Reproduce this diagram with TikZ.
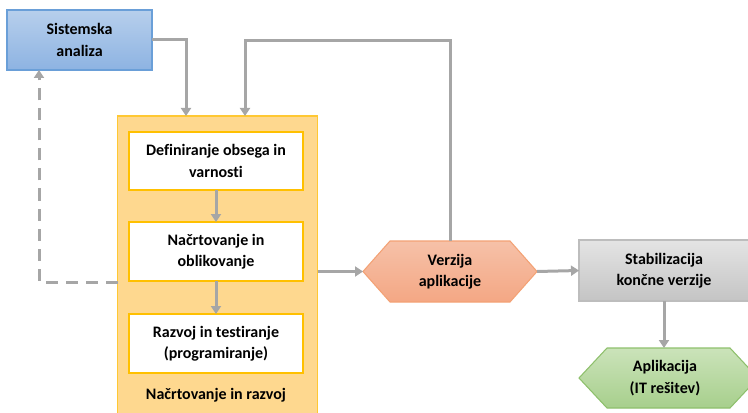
\documentclass[tikz,border=0pt]{standalone}
\usepackage{fontspec}
\setmainfont[Ligatures=NoCommon]{Carlito}
\usetikzlibrary{arrows.meta,calc}
\definecolor{linegray}{HTML}{A6A6A6}
\definecolor{blueTop}{HTML}{B7CFEC}
\definecolor{blueBot}{HTML}{8DB3E2}
\definecolor{blueLine}{HTML}{6A9FD8}
\definecolor{yellowFill}{HTML}{FED88F}
\definecolor{yellowLine}{HTML}{FFC833}
\definecolor{goldLine}{HTML}{FFC000}
\definecolor{orangeTop}{HTML}{F6C1A8}
\definecolor{orangeBot}{HTML}{F4A784}
\definecolor{orangeLine}{HTML}{F3A275}
\definecolor{grayTop}{HTML}{E4E4E4}
\definecolor{grayBot}{HTML}{C4C4C4}
\definecolor{grayLine}{HTML}{BDBDBD}
\definecolor{greenTop}{HTML}{CBE3BA}
\definecolor{greenBot}{HTML}{A7CF8C}
\definecolor{greenLine}{HTML}{8EC06C}
\tikzset{
  px/.style={x=0.75pt,y=-0.75pt},
  lbl/.style={font=\fontsize{12}{16}\selectfont\bfseries, align=center, text=black},
  box/.style={lbl, rectangle, inner sep=0pt, outer sep=0pt},
  conn/.style={draw=linegray, line width=2.25pt,
    -{Triangle[width=7.5pt,length=6pt]}},
  dashconn/.style={conn, dash pattern=on 9pt off 6pt}
}
\begin{document}
\begin{tikzpicture}[px]
\clip (0,0) rectangle (748,413);
\useasboundingbox (0,0) rectangle (748,413);

% analysis box
\node[box, minimum width=108.75pt, minimum height=45pt,
  top color=blueTop, bottom color=blueBot, draw=blueLine, line width=0.8pt]
  (sa) at (79.5,40) {Sistemska\\analiza};

% planning and development group
\node[box, minimum width=150pt, minimum height=223.5pt,
  fill=yellowFill, draw=yellowLine, line width=0.8pt]
  (grp) at (217.5,265) {};
\node[lbl] (grplbl) at (216,395) {Načrtovanje in razvoj};

\node[box, minimum width=130.5pt, minimum height=43.5pt,
  fill=white, draw=goldLine, line width=1.6pt]
  (b1) at (216,161) {Definiranje obsega in\\varnosti};
\node[box, minimum width=130.5pt, minimum height=44.25pt,
  fill=white, draw=goldLine, line width=1.6pt]
  (b2) at (216,251.5) {Načrtovanje in\\oblikovanje};
\node[box, minimum width=130.5pt, minimum height=44.25pt,
  fill=white, draw=goldLine, line width=1.6pt]
  (b3) at (216,343.5) {Razvoj in testiranje\\(programiranje)};

% application version (hexagon)
\node[box, minimum width=130.5pt, minimum height=45.75pt] (v) at (450,271.5) {};
\path[top color=orangeTop, bottom color=orangeBot, draw=orangeLine, line width=0.8pt]
  (v.west) -- ($(v.north west)+(27,0)$) -- ($(v.north east)+(-27,0)$)
  -- (v.east) -- ($(v.south east)+(-27,0)$) -- ($(v.south west)+(27,0)$) -- cycle;
\node[lbl] at (v.center) {Verzija\\aplikacije};

% stabilization box
\node[box, minimum width=127.5pt, minimum height=45.75pt,
  top color=grayTop, bottom color=grayBot, draw=grayLine, line width=0.8pt]
  (s) at (664,270.5) {Stabilizacija\\končne verzije};

% final application (hexagon)
\node[box, minimum width=134.25pt, minimum height=45pt] (ap) at (668.5,378) {};
\path[top color=greenTop, bottom color=greenBot, draw=greenLine, line width=0.8pt]
  (ap.west) -- ($(ap.north west)+(28,0)$) -- ($(ap.north east)+(-28,0)$)
  -- (ap.east) -- ($(ap.south east)+(-28,0)$) -- ($(ap.south west)+(28,0)$) -- cycle;
\node[lbl] at (665,378) {Aplikacija\\(IT rešitev)};

% connectors
\coordinate (in1) at (186,41);
\coordinate (loop) at (245,41);
\coordinate (back) at (39,282);

\draw[conn] (sa.east) -| (in1 |- grp.north);
\draw[conn] (v.north) |- (loop) -- (loop |- grp.north);
\draw[conn] (b1) -- (b2);
\draw[conn] (b2) -- (b3);
\draw[conn] (grp.east |- v) -- (v.west);
\draw[conn] (v.east) -- (s.west);
\draw[conn] (s.south) -- (s.south |- ap.north);
\draw[dashconn] (grp.west |- back) -- (back) -- (back |- sa.south);
\end{tikzpicture}
\end{document}
